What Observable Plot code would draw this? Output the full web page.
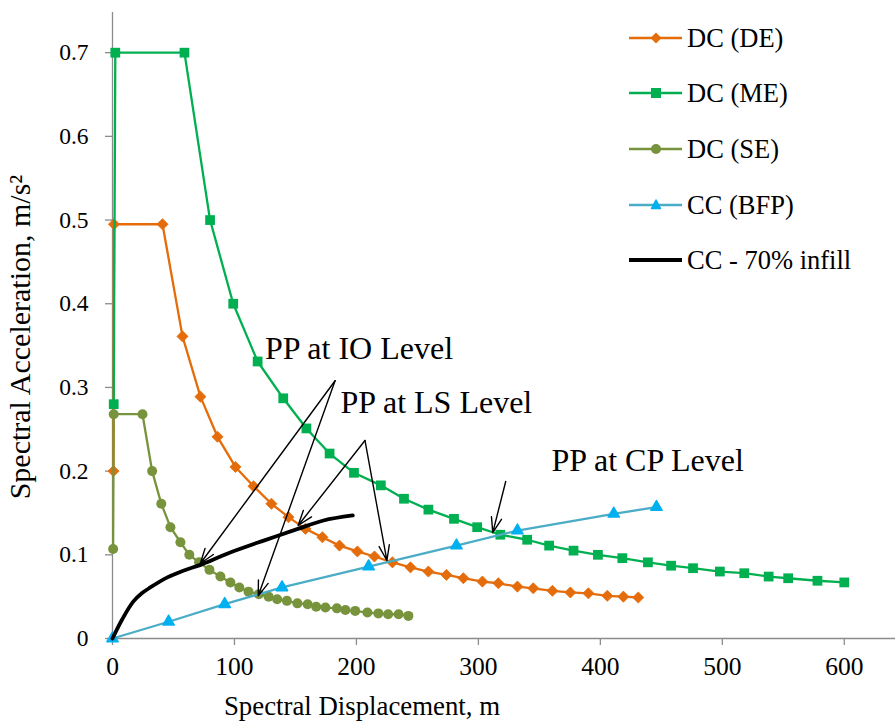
<!DOCTYPE html>
<html><head><meta charset="utf-8">
<script src="https://cdn.jsdelivr.net/npm/d3@7"></script>
<script src="https://cdn.jsdelivr.net/npm/@observablehq/plot@0.6"></script>
<style>
body{margin:0;background:#fff;}
#wrap{position:relative;width:895px;height:722px;color:#000;overflow:hidden;}
#wrap svg{display:block;}
.ttl{position:absolute;white-space:nowrap;}
.leg{position:absolute;left:629px;top:0;font-size:26.5px;}
.leg .row{position:absolute;left:0;height:30px;display:flex;align-items:center;white-space:nowrap;}
.leg .row svg{margin-right:5px;}
</style></head><body><div id="wrap"></div>
<script>
// ---- data ----
const deDisp = [0.8, 1.2, 41, 57.4, 72.1, 86.1, 100.8, 115.6, 130.3, 144.3, 158.2, 172.1, 186.1, 200.8, 214.8, 229.5, 244.3, 259, 273.8, 287.7, 303.3, 316.4, 332, 345, 360.7, 375.4, 390.2, 405.7, 418.9, 431.1];
const deAcc  = [0.2, 0.495, 0.495, 0.361, 0.289, 0.241, 0.205, 0.182, 0.161, 0.145, 0.131, 0.121, 0.111, 0.104, 0.098, 0.091, 0.085, 0.080, 0.076, 0.072, 0.068, 0.066, 0.062, 0.060, 0.057, 0.055, 0.054, 0.051, 0.050, 0.049];
const meDisp = [1, 2.3, 59, 80, 99, 119, 140, 159, 178, 198, 220, 239, 259, 280, 299, 318, 340, 358, 378, 398, 418, 439, 458, 476, 498, 518, 538, 554, 578, 600];
const meAcc  = [0.28, 0.7, 0.7, 0.5, 0.4, 0.331, 0.287, 0.251, 0.221, 0.198, 0.183, 0.167, 0.154, 0.143, 0.133, 0.124, 0.118, 0.111, 0.105, 0.100, 0.096, 0.091, 0.087, 0.084, 0.080, 0.078, 0.074, 0.072, 0.069, 0.067];
const seDisp = [0.5, 1, 24.6, 32.5, 40, 47.5, 55.7, 63, 71, 79.5, 88.5, 96.7, 104, 111.5, 120, 128, 135, 143, 151.6, 160, 167, 174.6, 184, 191, 199, 209, 218, 226, 234.6, 242.6];
const seAcc  = [0.107, 0.268, 0.268, 0.2, 0.161, 0.133, 0.115, 0.100, 0.091, 0.082, 0.074, 0.067, 0.061, 0.056, 0.053, 0.050, 0.047, 0.045, 0.042, 0.041, 0.038, 0.037, 0.036, 0.034, 0.033, 0.031, 0.030, 0.029, 0.029, 0.027];
const bfpDisp = [0, 46, 92, 139, 210, 282, 332, 411, 446];
const bfpAcc  = [0, 0.020, 0.041, 0.061, 0.086, 0.111, 0.129, 0.149, 0.157];
const infillDisp = [0, 8, 17, 24, 31, 45, 58, 72, 87, 97, 124, 152, 173, 197];
const infillAcc  = [0, 0.023, 0.044, 0.054, 0.061, 0.073, 0.081, 0.088, 0.097, 0.103, 0.117, 0.131, 0.141, 0.147];

const xTicks = [0, 100, 200, 300, 400, 500, 600];
const yTicks = [0, 0.1, 0.2, 0.3, 0.4, 0.5, 0.6, 0.7];

const seriesNames = ["DC (DE)", "DC (ME)", "DC (SE)", "CC (BFP)", "CC - 70% infill"];

const noteLabels = ["PP at IO Level", "PP at LS Level", "PP at CP Level"];
const noteX = [125, 187, 360];
const noteY = [0.346, 0.282, 0.212];

const arrowFromX = [182.5, 182.5, 207, 207, 322.4];
const arrowFromY = [0.308, 0.308, 0.2366, 0.2366, 0.1876];
const arrowToX   = [72, 119.5, 152.2, 225, 311.8];
const arrowToY   = [0.0896, 0.051, 0.135, 0.0932, 0.1266];

// ---- styling ----
const SERIF = "Liberation Serif";
const C = {de: "#E46C0A", me: "#00B050", se: "#77933C", bfpLine: "#4BACC6", bfpMark: "#00B0F0", infill: "#000000", axis: "#8C8C8C"};
const rows = (xs, ys) => xs.map((x, i) => ({x, y: ys[i]}));
const de = rows(deDisp, deAcc), me = rows(meDisp, meAcc), se = rows(seDisp, seAcc);
const bfp = rows(bfpDisp, bfpAcc), infill = rows(infillDisp, infillAcc);
const notes = noteLabels.map((t, i) => ({t, x: noteX[i], y: noteY[i]}));
const arrows = arrowFromX.map((x1, i) => ({x1, y1: arrowFromY[i], x2: arrowToX[i], y2: arrowToY[i]}));
const yMax = 0.748;

const chart = Plot.plot({
  width: 895, height: 722,
  marginLeft: 112, marginRight: 0, marginTop: 12, marginBottom: 84,
  style: {fontSize: "23.5px", color: "#000", background: "transparent", overflow: "visible"},
  x: {domain: [0, 642], ticks: xTicks, tickSize: 7, tickPadding: 11, label: null, tickFormat: d => String(d)},
  y: {domain: [0, yMax], ticks: yTicks, tickSize: 7, tickPadding: 17, label: null, tickFormat: d => d === 0 ? "0" : d.toFixed(1)},
  marks: [
    Plot.ruleY([0], {stroke: C.axis, strokeWidth: 1.3}),
    Plot.ruleX([0], {y1: 0, y2: yMax, stroke: C.axis, strokeWidth: 1.3}),
    Plot.line(de, {x: "x", y: "y", stroke: C.de, strokeWidth: 2.3}),
    Plot.dot(de, {x: "x", y: "y", symbol: "diamond2", r: 5, fill: C.de, stroke: C.de, strokeWidth: 0.8, strokeLinejoin: "round"}),
    Plot.line(me, {x: "x", y: "y", stroke: C.me, strokeWidth: 2.3}),
    Plot.dot(me, {x: "x", y: "y", symbol: "square", r: 5.5, fill: C.me, stroke: "none"}),
    Plot.line(se, {x: "x", y: "y", stroke: C.se, strokeWidth: 2.3}),
    Plot.dot(se, {x: "x", y: "y", symbol: "circle", r: 5, fill: C.se, stroke: "none"}),
    Plot.line(bfp, {x: "x", y: "y", stroke: C.bfpLine, strokeWidth: 2.3}),
    Plot.dot(bfp, {x: "x", y: "y", symbol: "triangle", r: 4.2, fill: C.bfpMark, stroke: C.bfpMark, strokeWidth: 1.5, strokeLinejoin: "round"}),
    Plot.line(infill, {x: "x", y: "y", stroke: C.infill, strokeWidth: 3.8, curve: "catmull-rom"}),
    Plot.arrow(arrows, {x1: "x1", y1: "y1", x2: "x2", y2: "y2", stroke: "#000", strokeWidth: 1.4, headLength: 17, headAngle: 38}),
    Plot.text(notes, {x: "x", y: "y", text: "t", textAnchor: "start", fontSize: 32, fill: "#000"})
  ]
});

// fonts and axis tick colouring
chart.style.fontFamily = SERIF;
chart.querySelectorAll("text").forEach(t => { t.style.fontFamily = SERIF; });
chart.querySelectorAll('[aria-label*="axis"] path, [aria-label*="axis"] line').forEach(e => { e.setAttribute("stroke", C.axis); e.setAttribute("stroke-width", "1.3"); });
chart.querySelectorAll('[aria-label^="x-axis"] text').forEach(e => { e.style.fontSize = "25.5px"; });

const wrap = document.getElementById("wrap");
wrap.style.fontFamily = SERIF;
wrap.appendChild(chart);

// axis titles
const xt = document.createElement("div");
xt.className = "ttl"; xt.textContent = "Spectral Displacement, m";
xt.style.fontFamily = SERIF; xt.style.fontSize = "26.8px"; xt.style.left = "362px"; xt.style.top = "706px";
xt.style.transform = "translate(-50%,-50%)";
wrap.appendChild(xt);
const yt = document.createElement("div");
yt.className = "ttl"; yt.textContent = "Spectral Acceleration, m/s²";
yt.style.fontFamily = SERIF; yt.style.fontSize = "30px"; yt.style.left = "20px"; yt.style.top = "337px";
yt.style.transform = "translate(-50%,-50%) rotate(-90deg)";
wrap.appendChild(yt);

// legend
const legRowsY = [38, 93, 149, 205, 260];
const swatch = [
  {line: C.de, mark: `<polygon points="27,4.5 32.5,10 27,15.5 21.5,10" fill="${C.de}"/>`},
  {line: C.me, mark: `<rect x="22" y="5" width="10" height="10" fill="${C.me}"/>`},
  {line: C.se, mark: `<circle cx="27" cy="10" r="5" fill="${C.se}"/>`},
  {line: C.bfpLine, mark: `<path d="M27,5 L31.5,13.5 L22.5,13.5 Z" fill="${C.bfpMark}" stroke="${C.bfpMark}" stroke-width="1.5" stroke-linejoin="round"/>`},
  {line: C.infill, mark: "", w: 4}
];
const leg = document.createElement("div");
leg.className = "leg";
leg.style.fontFamily = SERIF;
seriesNames.forEach((name, i) => {
  const r = document.createElement("div");
  r.className = "row";
  r.style.top = (legRowsY[i] - 15) + "px";
  const s = swatch[i];
  r.innerHTML = `<svg width="53" height="20"><line x1="0" y1="10" x2="53" y2="10" stroke="${s.line}" stroke-width="${s.w || 2.5}"/>${s.mark}</svg><span style="font-family:'Liberation Serif'">${name}</span>`;
  leg.appendChild(r);
});
wrap.appendChild(leg);
</script></body></html>
